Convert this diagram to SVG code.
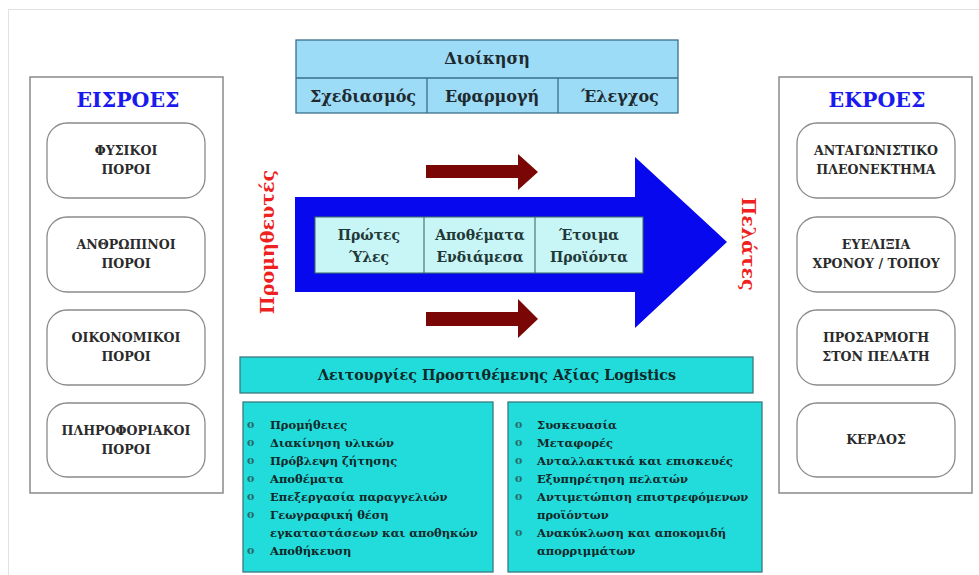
<svg xmlns="http://www.w3.org/2000/svg" width="979" height="575" viewBox="0 0 979 575" font-family="'DejaVu Serif', 'Liberation Serif', serif" font-weight="bold">
  <defs>
    <style>
      text { font-family: "DejaVu Serif", "Liberation Serif", serif; font-weight: bold; }
      .frame { fill: none; stroke: #e2e2e2; stroke-width: 1; }
      .panel { fill: #ffffff; stroke: #8a8a8a; stroke-width: 1.5; }
      .card { fill: #ffffff; stroke: #8a8a8a; stroke-width: 1.3; }
      .card-text { font-size: 12.6px; fill: #2a2a2a; text-anchor: middle; }
      .panel-title { font-size: 20.5px; fill: #1a1aee; text-anchor: middle; }
      .mgmt { fill: #9ddcf7; stroke: #3a6f8a; stroke-width: 1.3; }
      .mgmt-text { font-size: 16px; fill: #1e2a30; text-anchor: middle; }
      .stage { fill: #c8f5f5; stroke: #3c6e6e; stroke-width: 1.1; }
      .stage-text { font-size: 14px; fill: #1f3838; text-anchor: middle; }
      .flow { fill: #7a0606; }
      .side-label { font-size: 19px; fill: #ee2020; text-anchor: middle; }
      .teal { fill: #22dcdc; stroke: #3a7a80; stroke-width: 1.3; }
      .teal-title { font-size: 14.3px; fill: #102828; text-anchor: middle; }
      .item { font-size: 11.5px; fill: #102828; }
      .bullet { font-size: 11px; fill: #2a6a6a; font-weight: normal; }
    </style>
  </defs>

  <rect x="0" y="0" width="979" height="575" fill="#ffffff"/>
  <rect class="frame" x="8.5" y="9.5" width="980" height="580"/>

  <!-- Inputs -->
  <g id="inputs">
    <rect class="panel" x="30" y="77" width="193" height="416"/>
    <text class="panel-title" x="128" y="107">ΕΙΣΡΟΕΣ</text>
  </g>
  <g id="in-physical">
    <rect class="card" x="47" y="123" width="158" height="75" rx="20"/>
    <text class="card-text" x="126" y="155">ΦΥΣΙΚΟΙ</text>
    <text class="card-text" x="126" y="174">ΠΟΡΟΙ</text>
  </g>
  <g id="in-human">
    <rect class="card" x="47" y="217" width="158" height="75" rx="20"/>
    <text class="card-text" x="126" y="249">ΑΝΘΡΩΠΙΝΟΙ</text>
    <text class="card-text" x="126" y="268">ΠΟΡΟΙ</text>
  </g>
  <g id="in-financial">
    <rect class="card" x="47" y="310" width="158" height="75" rx="20"/>
    <text class="card-text" x="126" y="342">ΟΙΚΟΝΟΜΙΚΟΙ</text>
    <text class="card-text" x="126" y="361">ΠΟΡΟΙ</text>
  </g>
  <g id="in-information">
    <rect class="card" x="47" y="403" width="158" height="74" rx="20"/>
    <text class="card-text" x="126" y="435">ΠΛΗΡΟΦΟΡΙΑΚΟΙ</text>
    <text class="card-text" x="126" y="454">ΠΟΡΟΙ</text>
  </g>

  <!-- Outputs -->
  <g id="outputs">
    <rect class="panel" x="779" y="77" width="193" height="416"/>
    <text class="panel-title" x="877" y="107">ΕΚΡΟΕΣ</text>
  </g>
  <g id="out-advantage">
    <rect class="card" x="797" y="123" width="158" height="75" rx="20"/>
    <text class="card-text" x="876" y="155">ΑΝΤΑΓΩΝΙΣΤΙΚΟ</text>
    <text class="card-text" x="876" y="174">ΠΛΕΟΝΕΚΤΗΜΑ</text>
  </g>
  <g id="out-flexibility">
    <rect class="card" x="797" y="217" width="158" height="75" rx="20"/>
    <text class="card-text" x="876" y="249">ΕΥΕΛΙΞΙΑ</text>
    <text class="card-text" x="876" y="268">ΧΡΟΝΟΥ / ΤΟΠΟΥ</text>
  </g>
  <g id="out-customer">
    <rect class="card" x="797" y="310" width="158" height="75" rx="20"/>
    <text class="card-text" x="876" y="342">ΠΡΟΣΑΡΜΟΓΗ</text>
    <text class="card-text" x="876" y="361">ΣΤΟΝ ΠΕΛΑΤΗ</text>
  </g>
  <g id="out-profit">
    <rect class="card" x="797" y="403" width="158" height="74" rx="20"/>
    <text class="card-text" x="876" y="444">ΚΕΡΔΟΣ</text>
  </g>

  <!-- Management -->
  <g id="management">
    <rect class="mgmt" x="296" y="40" width="382" height="73"/>
    <line x1="296" y1="78" x2="678" y2="78" stroke="#3a6f8a" stroke-width="1.3"/>
    <line x1="427" y1="78" x2="427" y2="113" stroke="#3a6f8a" stroke-width="1.3"/>
    <line x1="558" y1="78" x2="558" y2="113" stroke="#3a6f8a" stroke-width="1.3"/>
    <text class="mgmt-text" x="487" y="64">Διοίκηση</text>
    <text class="mgmt-text" x="363" y="102">Σχεδιασμός</text>
    <text class="mgmt-text" x="492" y="102">Εφαρμογή</text>
    <text class="mgmt-text" x="620" y="102">Έλεγχος</text>
  </g>

  <!-- Main material flow -->
  <g id="supply-flow">
    <polygon points="295,197 635,197 635,157 727,242 635,328 635,292 295,292" fill="#0808ee"/>
    <rect class="stage" x="315" y="217" width="328" height="56"/>
    <line x1="424" y1="217" x2="424" y2="273" stroke="#3c6e6e" stroke-width="1.1"/>
    <line x1="535" y1="217" x2="535" y2="273" stroke="#3c6e6e" stroke-width="1.1"/>
    <text class="stage-text" x="369" y="240">Πρώτες</text>
    <text class="stage-text" x="369" y="262">Ύλες</text>
    <text class="stage-text" x="480" y="240">Αποθέματα</text>
    <text class="stage-text" x="480" y="262">Ενδιάμεσα</text>
    <text class="stage-text" x="589" y="240">Έτοιμα</text>
    <text class="stage-text" x="589" y="262">Προϊόντα</text>
  </g>

  <g id="connectors">
    <polygon class="flow" points="426,165 518,165 518,154 538,172 518,190 518,178 426,178"/>
    <polygon class="flow" points="426,312 518,312 518,299 538,319 518,338 518,326 426,326"/>
  </g>

  <g id="suppliers">
    <text class="side-label" transform="translate(274,242) rotate(-90)">Προμηθευτές</text>
  </g>
  <g id="customers">
    <text class="side-label" transform="translate(742,244) rotate(90)">Πελάτες</text>
  </g>

  <!-- Value-added logistics functions -->
  <g id="logistics">
    <rect class="teal" x="240" y="357" width="513" height="36"/>
    <text class="teal-title" x="497" y="380">Λειτουργίες Προστιθέμενης Αξίας Logistics</text>
  </g>
  <g id="logistics-left">
    <rect class="teal" x="243" y="402" width="250" height="170"/>
    <g class="bullet">
      <text x="247" y="428">o</text>
      <text x="247" y="446">o</text>
      <text x="247" y="464">o</text>
      <text x="247" y="482">o</text>
      <text x="247" y="500">o</text>
      <text x="247" y="518">o</text>
      <text x="247" y="554">o</text>
    </g>
    <g class="item">
      <text x="270" y="429">Προμήθειες</text>
      <text x="270" y="447">Διακίνηση υλικών</text>
      <text x="270" y="465">Πρόβλεψη ζήτησης</text>
      <text x="270" y="483">Αποθέματα</text>
      <text x="270" y="501">Επεξεργασία παραγγελιών</text>
      <text x="270" y="519">Γεωγραφική θέση</text>
      <text x="270" y="537">εγκαταστάσεων και αποθηκών</text>
      <text x="270" y="555">Αποθήκευση</text>
    </g>
  </g>
  <g id="logistics-right">
    <rect class="teal" x="508" y="402" width="254" height="170"/>
    <g class="bullet">
      <text x="515" y="428">o</text>
      <text x="515" y="446">o</text>
      <text x="515" y="464">o</text>
      <text x="515" y="482">o</text>
      <text x="515" y="500">o</text>
      <text x="515" y="536">o</text>
    </g>
    <g class="item">
      <text x="537" y="429">Συσκευασία</text>
      <text x="537" y="447">Μεταφορές</text>
      <text x="537" y="465">Ανταλλακτικά και επισκευές</text>
      <text x="537" y="483">Εξυπηρέτηση πελατών</text>
      <text x="537" y="501">Αντιμετώπιση επιστρεφόμενων</text>
      <text x="537" y="519">προϊόντων</text>
      <text x="537" y="537">Ανακύκλωση και αποκομιδή</text>
      <text x="537" y="555">απορριμμάτων</text>
    </g>
  </g>
</svg>
